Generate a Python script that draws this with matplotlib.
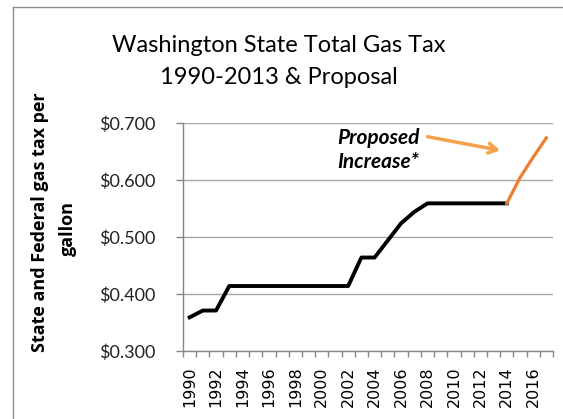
import numpy as np
import matplotlib.pyplot as plt
from matplotlib.lines import Line2D

# data
years = list(range(1990, 2018))
actual = [0.359, 0.371, 0.371,
          0.414, 0.414, 0.414, 0.414, 0.414, 0.414, 0.414, 0.414, 0.414, 0.414,
          0.464, 0.464, 0.494, 0.524, 0.544,
          0.559, 0.559, 0.559, 0.559, 0.559, 0.559, 0.559]
proposed_years = [2014, 2015, 2016, 2017]
proposed = [0.559, 0.604, 0.640, 0.674]
yticks = [0.3, 0.4, 0.5, 0.6, 0.7]

W, H = 563, 419
fig = plt.figure(figsize=(W / 100, H / 100), dpi=100)
ax = fig.add_axes([183 / W, 1 - 351 / H, 370 / W, 228 / H])

x_act = [years.index(y) for y in years[:len(actual)]]
x_prop = [years.index(y) for y in proposed_years]
ax.plot(x_act, actual, color='black', lw=2.8, solid_joinstyle='round')
ax.plot(x_prop, proposed, color='#ed7d31', lw=2.3)

ax.set_xlim(-0.5, len(years) - 0.5)
ax.set_ylim(0.3, 0.7)

# category axis: ticks between categories, labels every other year
ax.set_xticks(np.arange(-0.5, len(years), 1))
ax.set_xticklabels([])
ax.set_xticks(np.arange(0, len(years), 2), minor=True)
ax.set_xticklabels([str(y) for y in years[::2]], minor=True, rotation=90,
                   fontsize=11.5, family='DejaVu Sans')
ax.tick_params(axis='x', which='major', length=4, color='#868686', width=1)
ax.tick_params(axis='x', which='minor', length=0, pad=11)

ax.set_yticks(yticks)
ax.set_yticklabels(['$%.3f' % v for v in yticks], fontsize=13, family='Lato',
                   color='#222222')
ax.tick_params(axis='y', length=5, color='#868686', width=1, pad=15)
ax.yaxis.grid(True, color='#a6a6a6', lw=1)
ax.set_axisbelow(True)

for s in ['top', 'right']:
    ax.spines[s].set_visible(False)
for s in ['left', 'bottom']:
    ax.spines[s].set_color('#868686')
    ax.spines[s].set_linewidth(1)

# two-line y axis title
fig.text(40 / W, 1 - 222 / H, 'State and Federal gas tax per', rotation=90,
         ha='center', va='center', fontsize=13, fontweight='bold',
         family='Open Sans')
fig.text(68 / W, 1 - 228 / H, 'gallon', rotation=90,
         ha='center', va='center', fontsize=13, fontweight='bold',
         family='Open Sans')

fig.text(0.495, 1 - 45 / H, 'Washington State Total Gas Tax', ha='center',
         va='center', fontsize=17, family='Lato')
fig.text(0.495, 1 - 77 / H, '1990-2013 & Proposal', ha='center',
         va='center', fontsize=17, family='Lato')

ax.text(11.2, 0.652, 'Proposed\nIncrease*', fontsize=15, fontstyle='italic',
        fontweight='bold', family='Lato', ha='left', va='center',
        linespacing=1.25)
ax.annotate('', xy=(23.5, 0.652), xytext=(18.0, 0.676),
            arrowprops=dict(arrowstyle='->,head_length=0.6,head_width=0.35',
                            color='#f4a14a', lw=2.5, shrinkA=0, shrinkB=0),
            annotation_clip=False)

# chart frame (left and top edges visible)
fig.add_artist(Line2D([13 / W, 13 / W], [0, 1 - 7 / H], color='#8c8c8c',
                      lw=1, transform=fig.transFigure))
fig.add_artist(Line2D([13 / W, 1], [1 - 7 / H, 1 - 7 / H], color='#8c8c8c',
                      lw=1, transform=fig.transFigure))

fig.savefig('out.png', dpi=100)
